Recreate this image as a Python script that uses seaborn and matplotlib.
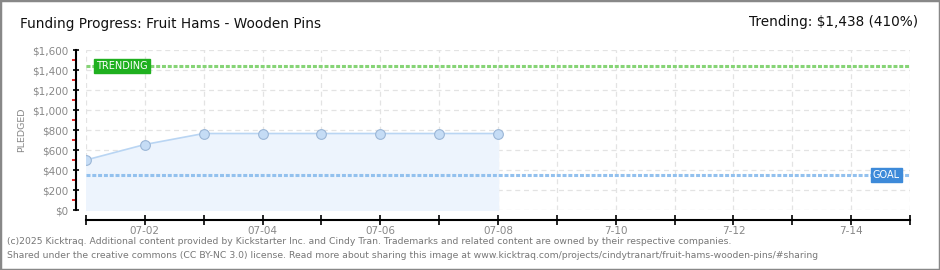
import matplotlib
matplotlib.use("Agg")
import matplotlib.pyplot as plt
from matplotlib.patches import Rectangle
from matplotlib.ticker import MultipleLocator, FuncFormatter
import seaborn as sns
import pandas as pd

# ---- data ----
days = [0, 1, 2, 3, 4, 5, 6, 7]          # 07-01 .. 07-08
pledged = [500, 655, 765, 765, 765, 765, 765, 765]
goal = 350
trending = 1438
tick_days = [1, 3, 5, 7, 9, 11, 13]
tick_labels = ["07-02", "07-04", "07-06", "07-08", "7-10", "7-12", "7-14"]
y_ticks = [0, 200, 400, 600, 800, 1000, 1200, 1400, 1600]

sns.set_style("white")
plt.rcParams["font.family"] = ["DejaVu Sans"]

W, H = 940, 270
fig = plt.figure(figsize=(W / 100, H / 100), dpi=100)
ax = fig.add_axes([86 / W, 1 - 210 / H, (910 - 86) / W, 160 / H])

df = pd.DataFrame({"day": days, "pledged": pledged})
ax.fill_between(df["day"], df["pledged"], 0, color="#edf4fd", zorder=1)
sns.lineplot(data=df, x="day", y="pledged", ax=ax, color="#b9d5f3", linewidth=1.2,
             marker="o", markersize=7, markerfacecolor="#c5dcf5",
             markeredgecolor="#9bb6d6", markeredgewidth=0.8, zorder=4)

ax.axhline(trending, color="#86d476", linewidth=2.2, linestyle=(0, (1.3, 0.6)), zorder=3)
ax.axhline(goal, color="#93c1ee", linewidth=2.2, linestyle=(0, (1.3, 0.6)), zorder=3)

ax.set_xlim(0, 14)
ax.set_ylim(0, 1600)
ax.set_xticks(range(0, 15))
ax.set_xticklabels(["" if d not in tick_days else tick_labels[tick_days.index(d)] for d in range(15)])
ax.set_yticks(y_ticks)
ax.yaxis.set_major_formatter(FuncFormatter(lambda v, p: f"${int(v):,}"))
ax.yaxis.set_minor_locator(MultipleLocator(100))

ax.grid(True, which="major", color="#e3e3e3", linestyle=(0, (4, 3)), linewidth=0.9, zorder=0)
ax.set_axisbelow(True)

for s in ["top", "right"]:
    ax.spines[s].set_visible(False)
ax.spines["left"].set_position(("outward", 7.2))
ax.spines["bottom"].set_position(("outward", 7.2))
for s in ["left", "bottom"]:
    ax.spines[s].set_color("black")
    ax.spines[s].set_linewidth(1.5)

ax.tick_params(axis="x", which="major", bottom=True, direction="inout", length=7, width=1.2,
               color="black", labelsize=7.5, labelcolor="#888888", pad=1)
ax.tick_params(axis="y", which="major", left=True, direction="inout", length=5, width=1.2,
               color="black", labelsize=7.5, labelcolor="#888888", pad=3)
ax.tick_params(axis="y", which="minor", left=True, direction="out", length=3, width=1.2,
               color="#e00000")

ax.set_xlabel("")
ax.set_ylabel("PLEDGED", fontsize=6.8, color="#888888", labelpad=4)

# labels on reference lines
ax.text(0.17, trending, "TRENDING", fontsize=7, color="white", va="center", ha="left",
        zorder=6, bbox=dict(boxstyle="square,pad=0.22", fc="#1fb01f", ec="#1fb01f"))
ax.text(13.83, goal, "GOAL", fontsize=7, color="white", va="center", ha="right",
        zorder=6, bbox=dict(boxstyle="square,pad=0.22", fc="#3d8ad9", ec="#3d8ad9"))

# titles
fig.text(20 / W, 1 - 24 / H, "Funding Progress: Fruit Hams - Wooden Pins",
         fontsize=9.8, color="#111111", va="center", ha="left")
fig.text(918 / W, 1 - 22 / H, "Trending: $1,438 (410%)",
         fontsize=9.8, color="#111111", va="center", ha="right")

# footer
fig.text(7 / W, 1 - 242 / H,
         "(c)2025 Kicktraq. Additional content provided by Kickstarter Inc. and Cindy Tran. "
         "Trademarks and related content are owned by their respective companies.",
         fontsize=6.65, color="#777777", va="center", ha="left")
fig.text(7 / W, 1 - 256 / H,
         "Shared under the creative commons (CC BY-NC 3.0) license. Read more about sharing this "
         "image at www.kicktraq.com/projects/cindytranart/fruit-hams-wooden-pins/#sharing",
         fontsize=6.65, color="#777777", va="center", ha="left")

# figure border
fig.patches.append(Rectangle((0, 0), 1, 1, transform=fig.transFigure, fill=False,
                             edgecolor="#888888", linewidth=2.5))

fig.savefig("out.png", dpi=100)
